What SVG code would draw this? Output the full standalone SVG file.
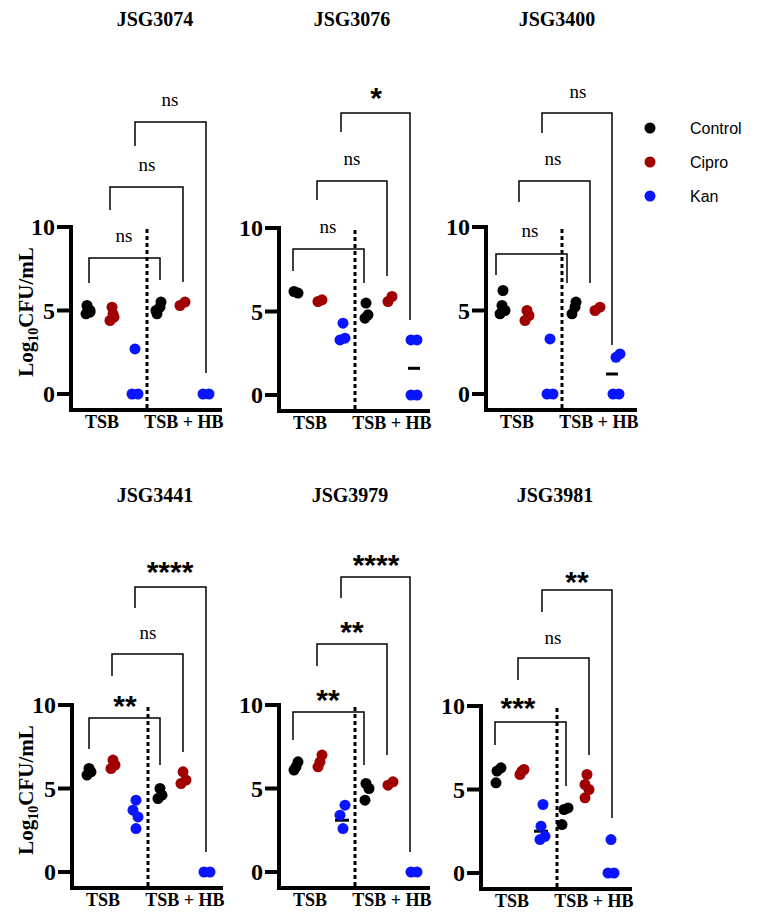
<svg xmlns="http://www.w3.org/2000/svg" width="758" height="924" viewBox="0 0 758 924">
<style>
.ax{fill:none;stroke:#000;stroke-width:4}
.dv{stroke:#000;stroke-width:3;stroke-dasharray:4,3}
.br{fill:none;stroke:#000;stroke-width:1.5}
.k{fill:#000}.r{fill:#a00000}.b{fill:#0a14ff}
.m{stroke:#000;stroke-width:3}
.t{font-family:"Liberation Serif",serif;font-weight:bold;font-size:20px;text-anchor:middle}
.xl{font-family:"Liberation Serif",serif;font-weight:bold;font-size:18px;text-anchor:middle}
.ns{font-family:"Liberation Serif",serif;font-size:19px;text-anchor:middle}
.st{font-family:"Liberation Sans",sans-serif;font-weight:bold;font-size:30px;text-anchor:middle}
.lg{font-family:"Liberation Sans",sans-serif;font-size:16px}
.yl{font-family:"Liberation Serif",serif;font-weight:bold;font-size:21px;text-anchor:middle}
</style>
<defs>
<g id="axes">
<path fill="none" stroke="#000" stroke-width="4" d="M-14,-167H0V16H151"/>
<path fill="none" stroke="#000" stroke-width="4" d="M-14,0H0M-14,-83.5H0"/>
<g font-family="Liberation Serif, serif" font-weight="bold" font-size="24" text-anchor="end">
<text x="-16" y="8">0</text>
<text x="-16" y="-75">5</text>
<text x="-16" y="-159">10</text>
</g>
<line stroke="#000" stroke-width="3" stroke-dasharray="4,3" x1="76" y1="-165" x2="76" y2="18"/>
</g>
</defs>

<text class="t" x="155" y="26">JSG3074</text>
<text class="t" x="352" y="26">JSG3076</text>
<text class="t" x="557" y="26">JSG3400</text>
<text class="t" x="155" y="502">JSG3441</text>
<text class="t" x="350" y="502">JSG3979</text>
<text class="t" x="555" y="502">JSG3981</text>

<g id="legend">
<circle class="k" cx="650" cy="128" r="5.5"/><text class="lg" x="690" y="134">Control</text>
<circle class="r" cx="650" cy="162" r="5.5"/><text class="lg" x="690" y="168">Cipro</text>
<circle class="b" cx="650" cy="196" r="5.5"/><text class="lg" x="690" y="202">Kan</text>
</g>

<text class="yl" transform="translate(33,312) rotate(-90)">Log<tspan font-size="14" dy="5">10</tspan><tspan dy="-5">CFU/mL</tspan></text>
<text class="yl" transform="translate(33,790) rotate(-90)">Log<tspan font-size="14" dy="5">10</tspan><tspan dy="-5">CFU/mL</tspan></text>

<g id="p1" transform="translate(71,394)">
<use href="#axes"/>
<text class="xl" x="31" y="34">TSB</text><text class="xl" x="113" y="34">TSB + HB</text>
<circle class="k" cx="15" cy="-80.2" r="5.5"/><circle class="k" cx="19" cy="-83.5" r="5.5"/><circle class="k" cx="16" cy="-88.5" r="5.5"/><circle class="k" cx="19" cy="-81.8" r="5.5"/><circle class="k" cx="17" cy="-85.2" r="5.5"/>
<circle class="r" cx="39" cy="-73.5" r="5.5"/><circle class="r" cx="43" cy="-76.8" r="5.5"/><circle class="r" cx="41" cy="-86.8" r="5.5"/><circle class="r" cx="42" cy="-80.2" r="5.5"/>
<circle class="b" cx="64" cy="-45.1" r="5.5"/><circle class="b" cx="61" cy="0" r="5.5"/><circle class="b" cx="67" cy="0" r="5.5"/>
<circle class="k" cx="86" cy="-80.2" r="5.5"/><circle class="k" cx="89" cy="-86.8" r="5.5"/><circle class="k" cx="90" cy="-91.9" r="5.5"/><circle class="k" cx="85" cy="-83.5" r="5.5"/>
<circle class="r" cx="109" cy="-88.5" r="5.5"/><circle class="r" cx="114" cy="-91.9" r="5.5"/>
<circle class="b" cx="132" cy="0" r="5.5"/><circle class="b" cx="138" cy="0" r="5.5"/>
</g>
<g class="br">
<path d="M89,283V258H160V280"/><path d="M110,210V187H183V282"/><path d="M135,146V122H206V373"/>
</g>
<text class="ns" x="124" y="242">ns</text><text class="ns" x="147" y="171">ns</text><text class="ns" x="170" y="106">ns</text>

<g id="p2" transform="translate(279,395)">
<use href="#axes"/>
<text class="xl" x="31" y="34">TSB</text><text class="xl" x="113" y="34">TSB + HB</text>
<circle class="k" cx="15" cy="-103.5" r="5.5"/><circle class="k" cx="19" cy="-101.9" r="5.5"/>
<circle class="r" cx="39" cy="-93.5" r="5.5"/><circle class="r" cx="43" cy="-95.2" r="5.5"/>
<circle class="b" cx="64" cy="-71.8" r="5.5"/><circle class="b" cx="61" cy="-55.1" r="5.5"/><circle class="b" cx="66" cy="-56.8" r="5.5"/>
<circle class="k" cx="86" cy="-76.8" r="5.5"/><circle class="k" cx="89" cy="-80.2" r="5.5"/><circle class="k" cx="87" cy="-91.9" r="5.5"/>
<circle class="r" cx="109" cy="-93.5" r="5.5"/><circle class="r" cx="113" cy="-98.5" r="5.5"/>
<line class="m" x1="129" y1="-26.7" x2="141" y2="-26.7"/>
<circle class="b" cx="132" cy="-55.1" r="5.5"/><circle class="b" cx="138" cy="-55.1" r="5.5"/><circle class="b" cx="132" cy="0" r="5.5"/><circle class="b" cx="138" cy="0" r="5.5"/>
</g>
<g class="br">
<path d="M293,271V249H364V283"/><path d="M317,200V181H387V276"/><path d="M341,132V113H410V320"/>
</g>
<text class="ns" x="328" y="233">ns</text><text class="ns" x="352" y="165">ns</text><text class="st" x="376" y="108">*</text>

<g id="p3" transform="translate(486,394)">
<use href="#axes"/>
<text class="xl" x="31" y="34">TSB</text><text class="xl" x="113" y="34">TSB + HB</text>
<circle class="k" cx="17" cy="-103.5" r="5.5"/><circle class="k" cx="14" cy="-80.2" r="5.5"/><circle class="k" cx="19" cy="-83.5" r="5.5"/><circle class="k" cx="16" cy="-88.5" r="5.5"/>
<circle class="r" cx="39" cy="-73.5" r="5.5"/><circle class="r" cx="43" cy="-78.5" r="5.5"/><circle class="r" cx="41" cy="-83.5" r="5.5"/>
<circle class="b" cx="64" cy="-55.1" r="5.5"/><circle class="b" cx="61" cy="0" r="5.5"/><circle class="b" cx="67" cy="0" r="5.5"/>
<circle class="k" cx="86" cy="-80.2" r="5.5"/><circle class="k" cx="89" cy="-86.8" r="5.5"/><circle class="k" cx="90" cy="-91.9" r="5.5"/>
<circle class="r" cx="109" cy="-83.5" r="5.5"/><circle class="r" cx="114" cy="-86.8" r="5.5"/>
<line class="m" x1="120" y1="-20" x2="132" y2="-20"/>
<circle class="b" cx="134" cy="-40.1" r="5.5"/><circle class="b" cx="130" cy="-36.7" r="5.5"/><circle class="b" cx="127" cy="0" r="5.5"/><circle class="b" cx="133" cy="0" r="5.5"/>
</g>
<g class="br">
<path d="M496,275V254H567V283"/><path d="M519,202V181H590V283"/><path d="M542,133V113H612V345"/>
</g>
<text class="ns" x="530" y="237">ns</text><text class="ns" x="553" y="165">ns</text><text class="ns" x="578" y="98">ns</text>

<g id="p4" transform="translate(72,872)">
<use href="#axes"/>
<text class="xl" x="31" y="34">TSB</text><text class="xl" x="113" y="34">TSB + HB</text>
<circle class="k" cx="15" cy="-96.9" r="5.5"/><circle class="k" cx="19" cy="-100.2" r="5.5"/><circle class="k" cx="17" cy="-103.5" r="5.5"/>
<circle class="r" cx="39" cy="-103.5" r="5.5"/><circle class="r" cx="43" cy="-106.9" r="5.5"/><circle class="r" cx="41" cy="-111.9" r="5.5"/>
<circle class="b" cx="64" cy="-71.8" r="5.5"/><circle class="b" cx="61" cy="-61.8" r="5.5"/><circle class="b" cx="66" cy="-55.1" r="5.5"/><circle class="b" cx="64" cy="-43.4" r="5.5"/>
<circle class="k" cx="86" cy="-73.5" r="5.5"/><circle class="k" cx="90" cy="-76.8" r="5.5"/><circle class="k" cx="88" cy="-83.5" r="5.5"/>
<circle class="r" cx="109" cy="-88.5" r="5.5"/><circle class="r" cx="114" cy="-91.9" r="5.5"/><circle class="r" cx="111" cy="-100.2" r="5.5"/>
<circle class="b" cx="132" cy="0" r="5.5"/><circle class="b" cx="138" cy="0" r="5.5"/>
</g>
<g class="br">
<path d="M89,749V718H160V765"/><path d="M112,676V654H183V752"/><path d="M135,608V587H206V852"/>
</g>
<text class="st" x="125" y="716">**</text><text class="ns" x="148" y="639">ns</text><text class="st" x="170" y="582">****</text>

<g id="p5" transform="translate(279,872)">
<use href="#axes"/>
<text class="xl" x="31" y="34">TSB</text><text class="xl" x="113" y="34">TSB + HB</text>
<circle class="k" cx="15" cy="-101.9" r="5.5"/><circle class="k" cx="19" cy="-110.2" r="5.5"/><circle class="k" cx="17" cy="-105.2" r="5.5"/>
<circle class="r" cx="39" cy="-105.2" r="5.5"/><circle class="r" cx="43" cy="-116.9" r="5.5"/><circle class="r" cx="41" cy="-110.2" r="5.5"/>
<line class="m" x1="56" y1="-51.8" x2="70" y2="-51.8"/>
<circle class="b" cx="66" cy="-66.8" r="5.5"/><circle class="b" cx="61" cy="-56.8" r="5.5"/><circle class="b" cx="64" cy="-43.4" r="5.5"/>
<circle class="k" cx="86" cy="-71.8" r="5.5"/><circle class="k" cx="90" cy="-83.5" r="5.5"/><circle class="k" cx="87" cy="-88.5" r="5.5"/>
<circle class="r" cx="109" cy="-86.8" r="5.5"/><circle class="r" cx="114" cy="-90.2" r="5.5"/>
<circle class="b" cx="132" cy="0" r="5.5"/><circle class="b" cx="138" cy="0" r="5.5"/>
</g>
<g class="br">
<path d="M293,740V712H364V765"/><path d="M317,666V644H387V755"/><path d="M341,598V577H410V852"/>
</g>
<text class="st" x="328" y="710">**</text><text class="st" x="352" y="642">**</text><text class="st" x="376" y="575">****</text>

<g id="p6" transform="translate(481,873)">
<use href="#axes"/>
<text class="xl" x="31" y="34">TSB</text><text class="xl" x="113" y="34">TSB + HB</text>
<circle class="k" cx="15" cy="-90.2" r="5.5"/><circle class="k" cx="16" cy="-101.9" r="5.5"/><circle class="k" cx="20" cy="-105.2" r="5.5"/>
<circle class="r" cx="39" cy="-98.5" r="5.5"/><circle class="r" cx="43" cy="-103.5" r="5.5"/><circle class="r" cx="41" cy="-101.9" r="5.5"/>
<line class="m" x1="53" y1="-41.8" x2="67" y2="-41.8"/>
<circle class="b" cx="62" cy="-68.5" r="5.5"/><circle class="b" cx="60" cy="-46.8" r="5.5"/><circle class="b" cx="64" cy="-36.7" r="5.5"/><circle class="b" cx="59" cy="-33.4" r="5.5"/>
<circle class="k" cx="81" cy="-48.4" r="5.5"/><circle class="k" cx="83" cy="-63.5" r="5.5"/><circle class="k" cx="87" cy="-65.1" r="5.5"/>
<circle class="r" cx="104" cy="-75.2" r="5.5"/><circle class="r" cx="108" cy="-83.5" r="5.5"/><circle class="r" cx="104" cy="-88.5" r="5.5"/><circle class="r" cx="106" cy="-98.5" r="5.5"/>
<circle class="b" cx="130" cy="-33.4" r="5.5"/><circle class="b" cx="127" cy="0" r="5.5"/><circle class="b" cx="133" cy="0" r="5.5"/>
</g>
<g class="br">
<path d="M495,745V722H566V786"/><path d="M518,680V658H589V755"/><path d="M542,612V590H612V818"/>
</g>
<text class="st" x="518" y="718">***</text><text class="ns" x="553" y="644">ns</text><text class="st" x="577" y="592">**</text>
</svg>
